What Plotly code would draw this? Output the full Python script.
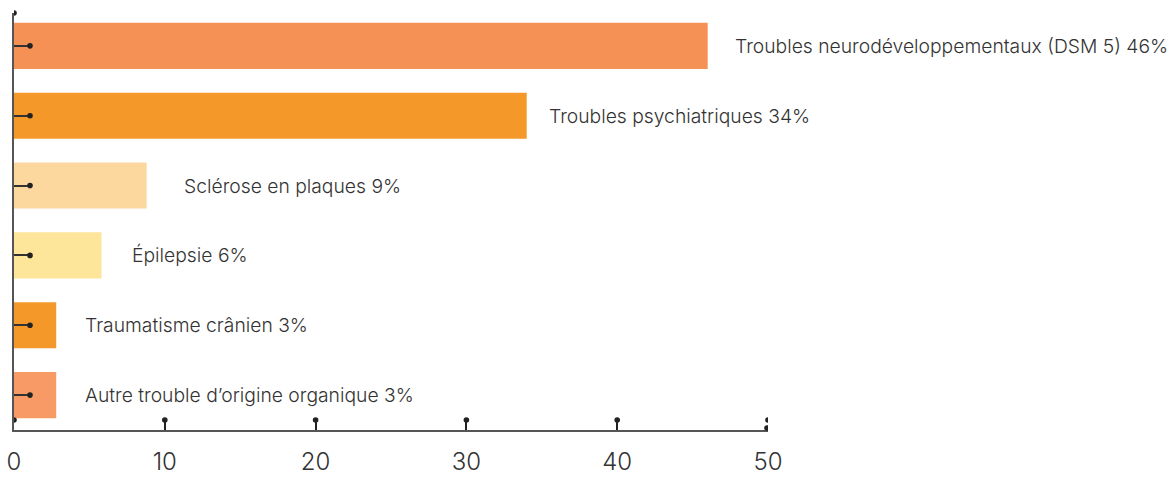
import plotly.graph_objects as go

categories = ["Troubles neurodéveloppementaux (DSM 5)", "Troubles psychiatriques",
              "Sclérose en plaques", "Épilepsie", "Traumatisme crânien",
              "Autre trouble d’origine organique"]
values = [46, 34, 8.8, 5.8, 2.8, 2.8]
pct_labels = ["46%", "34%", "9%", "6%", "3%", "3%"]
colors = ["#F69155", "#F49829", "#FCD89F", "#FDE59A", "#F49829", "#F79A65"]
x_ticks = [0, 10, 20, 30, 40, 50]

# label gap (px) from bar end
label_gaps = [25, 20, 35, 29, 27, 27]

ypos = list(range(len(categories)))
FONT = "Inter"
AX = "#555555"
DOT = "#222222"

fig = go.Figure()
fig.add_trace(go.Bar(
    x=values, y=ypos, orientation="h", width=0.66,
    marker=dict(color=colors, line=dict(width=0)),
    hoverinfo="skip", showlegend=False,
))

annotations = []
for i, (c, v, p) in enumerate(zip(categories, values, pct_labels)):
    annotations.append(dict(
        x=v, y=i, xref="x", yref="y", text=f"{c} {p}",
        xanchor="left", yanchor="middle", xshift=label_gaps[i], showarrow=False,
        font=dict(family=FONT, size=19.3, color="#333333", weight=300),
    ))

shapes = []
r = 2.8
for t in x_ticks:
    shapes.append(dict(type="circle", xref="x", yref="paper", xsizemode="pixel",
                       ysizemode="pixel", xanchor=t, yanchor=0,
                       x0=-r, x1=r, y0=10 - r, y1=10 + r,
                       fillcolor=DOT, line=dict(width=0)))
for i in ypos:
    shapes.append(dict(type="circle", xref="x", yref="y", xsizemode="pixel",
                       ysizemode="pixel", xanchor=0, yanchor=i,
                       x0=16 - r, x1=16 + r, y0=-r, y1=r,
                       fillcolor=DOT, line=dict(width=0)))
shapes.append(dict(type="circle", xref="x", yref="paper", xsizemode="pixel",
                   ysizemode="pixel", xanchor=0, yanchor=1,
                   x0=-r, x1=r, y0=-r, y1=r, fillcolor=DOT, line=dict(width=0)))
shapes.append(dict(type="circle", xref="x", yref="paper", xsizemode="pixel",
                   ysizemode="pixel", xanchor=x_ticks[-1], yanchor=0,
                   x0=-r - 1, x1=r - 1, y0=2 - r, y1=2 + r, fillcolor=DOT,
                   line=dict(width=0)))

fig.update_layout(
    width=1170, height=477,
    margin=dict(l=14, r=402, t=13, b=47),
    paper_bgcolor="white", plot_bgcolor="white",
    annotations=annotations, shapes=shapes,
    xaxis=dict(range=[0, 50], tickvals=x_ticks, ticks="inside", ticklen=10,
               tickwidth=1.5, tickcolor=DOT, showline=True, linecolor=AX,
               linewidth=2, showgrid=False, zeroline=False, automargin=False,
               tickfont=dict(family=FONT, size=24, color="#333333", weight=300),
               ticklabelstandoff=9),
    yaxis=dict(range=[5.5, -0.47], tickvals=ypos, ticks="inside", ticklen=16,
               tickwidth=1.5, tickcolor="#333333", showticklabels=False,
               showline=True, linecolor=AX, linewidth=2, showgrid=False,
               zeroline=False, automargin=False),
)

fig.write_html("out.html")
